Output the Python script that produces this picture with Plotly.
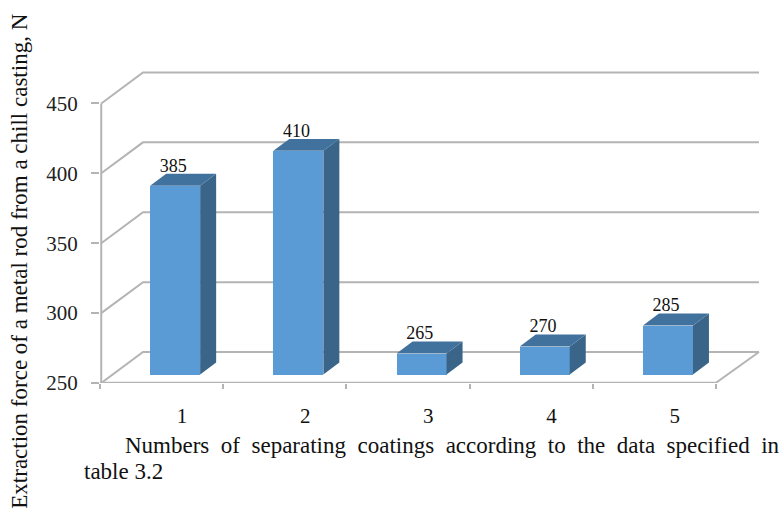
import plotly.graph_objects as go

categories = [1, 2, 3, 4, 5]
values = [385, 410, 265, 270, 285]
y_ticks = [250, 300, 350, 400, 450]
y_title = "Extraction force of a metal rod from a chill casting, N"
caption_1 = "Numbers\u00a0\u00a0of\u00a0\u00a0separating\u00a0\u00a0coatings\u00a0\u00a0according\u00a0\u00a0to\u00a0\u00a0the\u00a0\u00a0data\u00a0\u00a0specified\u00a0\u00a0in"
caption_2 = "table 3.2"

FONT = "Liberation Serif"
FRONT, SIDE, TOP, GRID = "#5b9bd5", "#3a6588", "#41729e", "#b4b4b4"

# pixel layout of the plotting area
L, R, T, B = 100, 770, 60, 383.5
PX_X, PX_Y = 123.2, 1.4
X0 = 0.5
X1 = X0 + (R - L) / PX_X
Y0 = 250
Y1 = Y0 + (B - T) / PX_Y
DX_W, DY_W = 43 / PX_X, 31 / PX_Y      # depth of the floor / wall
XR_FRONT = 5.5
BAR_SHIFT = 0.11                       # bars sit inside the floor
BAR_W = 50 / PX_X
DX_B, DY_B = 16 / PX_X, 12 / PX_Y      # depth of a bar
Y2_SHIFT = 8.5 / PX_Y                  # bar base above the floor front edge


def paper_x(px):
    return (px - L) / (R - L)


def paper_y(py):
    return (B - py) / (B - T)


fig = go.Figure()
line = dict(color=GRID, width=2)

# walls: each gridline runs from the front axis back, then along the back wall
for t in y_ticks:
    fig.add_trace(go.Scatter(
        x=[X0 + 0.01, X0 + DX_W, X0 + DX_W + (XR_FRONT - X0)],
        y=[t, t + DY_W, t + DY_W],
        mode="lines", line=line, hoverinfo="skip", showlegend=False))
# front axis, floor front edge, floor right edge
fig.add_trace(go.Scatter(x=[X0 + 0.01, X0 + 0.01], y=[y_ticks[0], y_ticks[-1]],
                         mode="lines", line=line, hoverinfo="skip", showlegend=False))
fig.add_trace(go.Scatter(x=[X0, XR_FRONT, XR_FRONT + DX_W], y=[Y0 + 0.2, Y0 + 0.2, Y0 + DY_W],
                         mode="lines", line=line, hoverinfo="skip", showlegend=False))

xb = [c + BAR_SHIFT for c in categories]

# front faces
fig.add_trace(go.Bar(x=xb, y=[v - Y0 for v in values], base=Y0, width=BAR_W,
                     marker=dict(color=FRONT, line=dict(width=0)),
                     xaxis="x", yaxis="y2", showlegend=False))

# side and top faces, from the same values
for x, v in zip(xb, values):
    xl, xr = x - BAR_W / 2, x + BAR_W / 2
    fig.add_trace(go.Scatter(
        x=[xr, xr + DX_B, xr + DX_B, xr, xr],
        y=[Y0, Y0 + DY_B, v + DY_B, v, Y0],
        mode="lines", fill="toself", fillcolor=SIDE, line=dict(width=0),
        xaxis="x", yaxis="y2", hoverinfo="skip", showlegend=False))
    fig.add_trace(go.Scatter(
        x=[xl, xl + DX_B, xr + DX_B, xr, xl],
        y=[v, v + DY_B, v + DY_B, v, v],
        mode="lines", fill="toself", fillcolor=TOP, line=dict(width=0),
        xaxis="x", yaxis="y2", hoverinfo="skip", showlegend=False))

# value labels
fig.add_trace(go.Scatter(
    x=[x - 0.015 for x in xb], y=[v + DY_B - 1.6 for v in values],
    text=[str(v) for v in values], mode="text", textposition="top center",
    textfont=dict(family=FONT, size=18, color="#111111"),
    xaxis="x", yaxis="y2", hoverinfo="skip", showlegend=False))

fig.update_layout(
    width=781, height=508, autosize=False,
    margin=dict(l=L, r=781 - R, t=T, b=508 - B, pad=0),
    paper_bgcolor="white", plot_bgcolor="white",
    bargap=0, showlegend=False,
    xaxis=dict(
        range=[X0, X1], showgrid=False, zeroline=False, showline=False,
        tickmode="array", tickvals=[c + 0.165 for c in categories],
        ticktext=[str(c) for c in categories], ticks="", ticklabelstandoff=18,
        tickfont=dict(family=FONT, size=21, color="#111111"),
        minor=dict(tickmode="array", tickvals=[c - 0.5 for c in categories] + [categories[-1] + 0.5],
                   ticks="outside", ticklen=5, tickwidth=2, tickcolor=GRID, showgrid=False),
    ),
    yaxis=dict(
        range=[Y0, Y1], showgrid=False, zeroline=False, showline=False,
        tickmode="array", tickvals=y_ticks, ticktext=[str(t) for t in y_ticks],
        ticks="outside", ticklen=8, tickwidth=2, tickcolor=GRID,
        tickfont=dict(family=FONT, size=21, color="#222222"), ticklabelstandoff=9,
    ),
    yaxis2=dict(
        range=[Y0 - Y2_SHIFT, Y1 - Y2_SHIFT], overlaying="y", visible=False,
    ),
    annotations=[
        dict(text=y_title, xref="paper", yref="paper", x=paper_x(20), y=paper_y(262),
             xanchor="center", yanchor="middle", textangle=-90, showarrow=False,
             font=dict(family=FONT, size=23, color="#111111")),
        dict(text=caption_1, xref="paper", yref="paper", x=paper_x(123), y=paper_y(446),
             xanchor="left", yanchor="middle", showarrow=False,
             font=dict(family=FONT, size=23, color="#111111")),
        dict(text=caption_2, xref="paper", yref="paper", x=paper_x(82), y=paper_y(472),
             xanchor="left", yanchor="middle", showarrow=False,
             font=dict(family=FONT, size=23, color="#111111")),
    ],
)

fig.write_html("out.html", config={"displayModeBar": False},
               post_script="document.body.style.margin='0';document.documentElement.style.overflow='hidden';")
